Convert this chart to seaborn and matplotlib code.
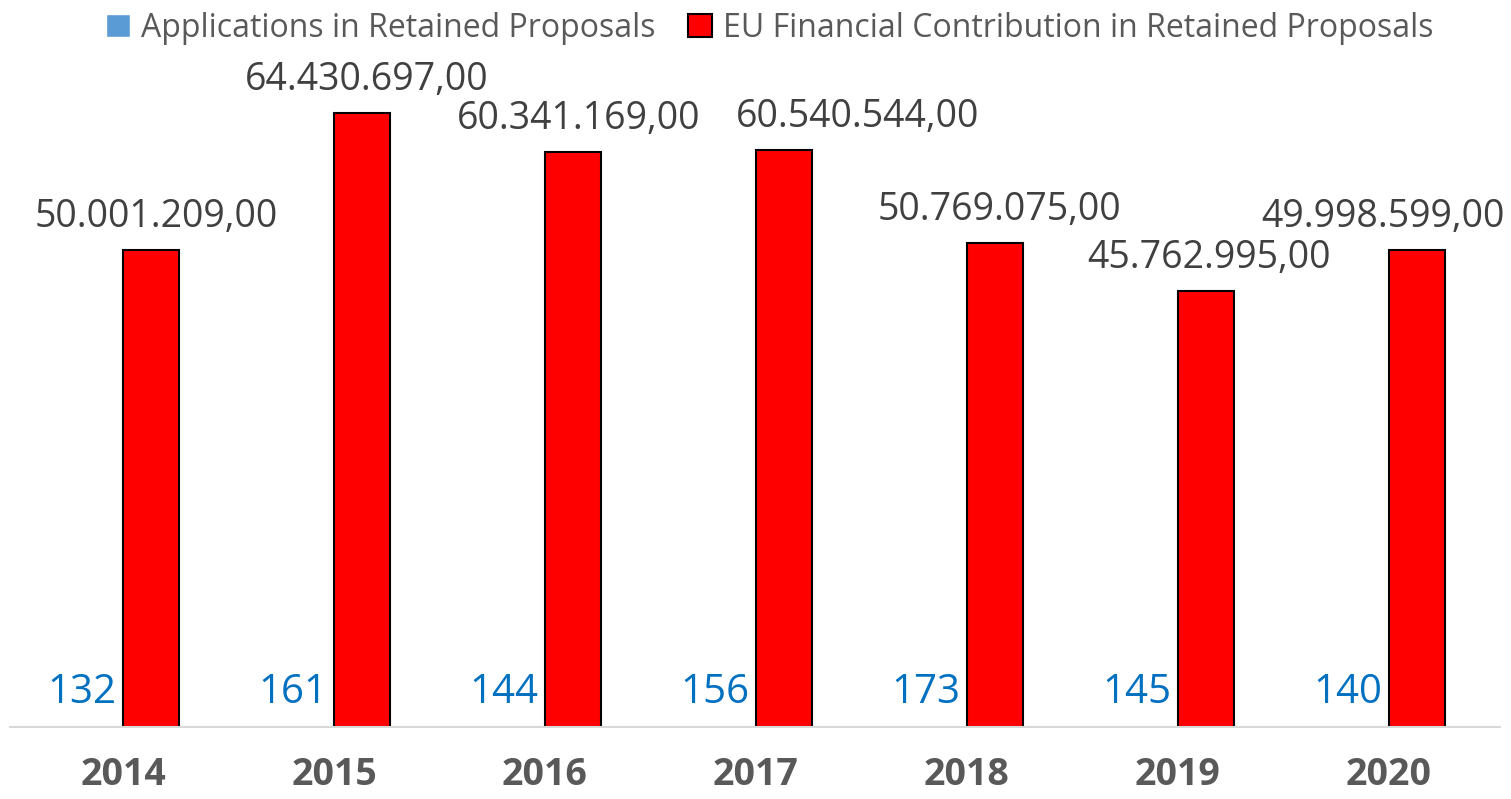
import pandas as pd
import matplotlib.pyplot as plt
import seaborn as sns

## values
years = ["2014", "2015", "2016", "2017", "2018", "2019", "2020"]
applications = [132, 161, 144, 156, 173, 145, 140]
eu_contribution = [50001209.00, 64430697.00, 60341169.00, 60540544.00,
                   50769075.00, 45762995.00, 49998599.00]
series_names = ["Applications in Retained Proposals",
                "EU Financial Contribution in Retained Proposals"]

## horizontal nudges (pixels) of the money labels, as placed in the original
label_shift_px = [5, 5, 6, 74, 5, 3, -34]

## long format for seaborn
df = pd.DataFrame({
    "year": years * 2,
    "value": applications + eu_contribution,
    "series": [series_names[0]] * len(years) + [series_names[1]] * len(years),
})

def eu_fmt(v):
    s = f"{v:,.2f}"
    return s.replace(",", "X").replace(".", ",").replace("X", ".")

sns.set_style("white")
plt.rcParams["font.family"] = ["Open Sans", "DejaVu Sans"]

fig = plt.figure(figsize=(15.11, 7.99), dpi=100)
ax = fig.add_axes([0.0066, 0.0901, 0.986, 0.835])

sns.barplot(data=df, x="year", y="value", hue="series",
            palette=["#5B9BD5", "#FF0000"], saturation=1, width=0.53,
            ax=ax, legend=True)

# black outline on the red bars only
for bar in ax.containers[1]:
    bar.set_edgecolor("black")
    bar.set_linewidth(1.5)

px = 0.72  # points per pixel at dpi 100

# blue labels (applications) just above the baseline
for bar, v in zip(ax.containers[0], applications):
    ax.annotate(str(v), (bar.get_x() + bar.get_width() / 2, bar.get_height()),
                xytext=(-13 * px, 24 * px), textcoords="offset points",
                ha="center", va="baseline", color="#0070C0", fontsize=29)

# money labels above the red bars
for bar, v, dx in zip(ax.containers[1], eu_contribution, label_shift_px):
    ax.annotate(eu_fmt(v), (bar.get_x() + bar.get_width() / 2, bar.get_height()),
                xytext=(dx * px, 23 * px), textcoords="offset points",
                ha="center", va="baseline", color="#404040", fontsize=27)

ax.set_xlim(-0.536, 6.526)
ax.set_ylim(0, 70000000)
ax.set_xlabel("")
ax.set_ylabel("")
ax.set_yticks([])
for side in ["left", "right", "top"]:
    ax.spines[side].set_visible(False)
ax.spines["bottom"].set_color("#D9D9D9")
ax.spines["bottom"].set_linewidth(1.5)
ax.tick_params(axis="x", length=0, pad=21)
for lbl in ax.get_xticklabels():
    lbl.set_fontweight("bold")
    lbl.set_fontsize(27)
    lbl.set_color("#595959")

leg = ax.legend(loc="upper center", bbox_to_anchor=(0.51, 1.115), ncol=2,
                frameon=False, fontsize=23, labelcolor="#595959",
                handlelength=0.75, handleheight=0.75, handletextpad=0.35,
                columnspacing=1.0)
leg.legend_handles[1].set_edgecolor("black")
leg.legend_handles[1].set_linewidth(1.5)

fig.savefig("out.png", dpi=100)
